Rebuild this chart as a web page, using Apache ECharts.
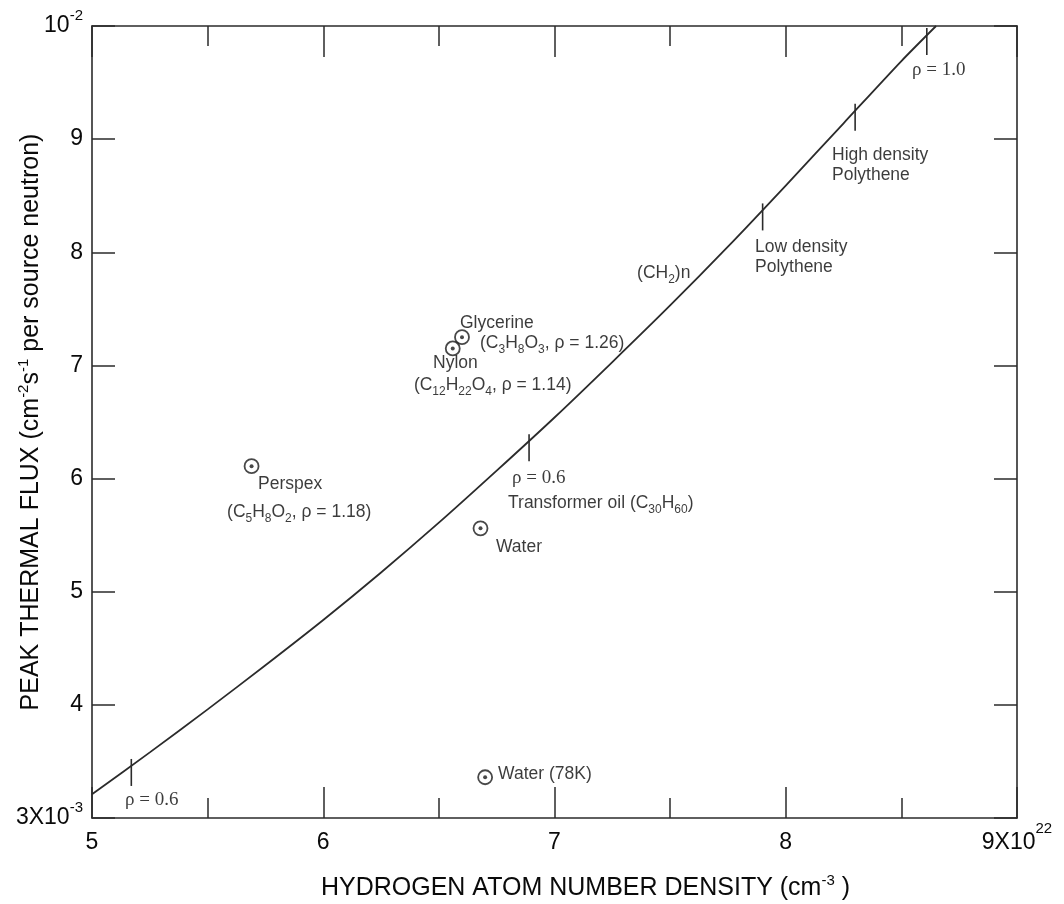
<!DOCTYPE html>
<html>
<head>
<meta charset="utf-8">
<script src="https://cdn.jsdelivr.net/npm/echarts@6/dist/echarts.min.js"></script>
<style>
html,body{margin:0;padding:0;background:#fff;}
#chart{width:1064px;height:904px;}
</style>
</head>
<body>
<div id="chart"></div>
<script>
// ---- data (x in units of 1e22 cm^-3, y in units of 1e-3) ----
const curveX = [5.00, 5.25, 5.50, 5.75, 6.00, 6.25, 6.50, 6.75, 7.00, 7.25, 7.50, 7.75, 8.00, 8.25, 8.50, 8.65];
const curveY = [3.21, 3.58, 3.96, 4.35, 4.75, 5.17, 5.61, 6.07, 6.54, 7.03, 7.53, 8.05, 8.59, 9.14, 9.69, 10.0];

const rhoTickX = [5.17, 6.89, 7.90, 8.30, 8.61];
const rhoTickY = [3.46, 6.33, 8.37, 9.25, 9.92];

const sampleNames = ['Perspex', 'Glycerine', 'Nylon', 'Water', 'Water (78K)'];
const sampleX = [5.69, 6.60, 6.56, 6.68, 6.70];
const sampleY = [6.11, 7.25, 7.15, 5.56, 3.36];

const annText = [
  '{r|ρ = 1.0}',
  '{n|High density}\n{n|Polythene}',
  '{n|Low density}\n{n|Polythene}',
  '{m|(CH}{s|2}{m|)n}',
  '{n|Glycerine}',
  '{m|(C}{s|3}{m|H}{s|8}{m|O}{s|3}{m|, ρ = 1.26)}',
  '{n|Nylon}',
  '{m|(C}{s|12}{m|H}{s|22}{m|O}{s|4}{m|, ρ = 1.14)}',
  '{r|ρ = 0.6}',
  '{m|Transformer oil (C}{s|30}{m|H}{s|60}{m|)}',
  '{n|Water}',
  '{n|Perspex}',
  '{m|(C}{s|5}{m|H}{s|8}{m|O}{s|2}{m|, ρ = 1.18)}',
  '{n|Water (78K)}',
  '{r|ρ = 0.6}'
];
const annX = [8.546, 8.200, 7.867, 7.357, 6.591, 6.678, 6.475, 6.392, 6.816, 6.799, 6.747, 5.718, 5.584, 6.756, 5.143];
const annY = [9.611, 8.772, 7.958, 7.817, 7.375, 7.198, 7.022, 6.827, 6.005, 5.784, 5.395, 5.952, 5.705, 3.389, 3.159];

const xTicks = [5, 6, 7, 8, 9];
const yTicks = [3, 4, 5, 6, 7, 8, 9, 10];

const xTitle = '{n|HYDROGEN ATOM NUMBER DENSITY (cm}{sup|-3}{n| )}';
const yTitle = '{n|PEAK THERMAL FLUX (cm}{sup|-2}{n|s}{sup|-1}{n| per source neutron)}';

// ---- styling ----
const SANS = '"Liberation Sans", Arial, Helvetica, sans-serif';
const SERIF = '"Liberation Serif", "Times New Roman", serif';
const INK = '#2b2b2b';
const TXT = '#0a0a0a';

const axisLineStyle = {color: INK, width: 1.6};

function xLabel(v) {
  if (v === 9) return '{n|9X10}{sup|22}';
  return '{n|' + v + '}';
}
function yLabel(v) {
  if (v === 10) return '{n|10}{sup|-2}';
  if (v === 3) return '{n|3X10}{sup|-3}';
  return '{n|' + v + '}';
}

const chart = echarts.init(document.getElementById('chart'), null, {renderer: 'canvas'});

const xBase = {
  type: 'value', min: xTicks[0], max: xTicks[xTicks.length - 1], interval: 1,
  splitLine: {show: false},
  axisLine: {show: true, lineStyle: axisLineStyle},
  axisTick: {show: true, inside: true, length: 31, lineStyle: {color: INK, width: 1.5}},
  minorTick: {show: true, splitNumber: 2, length: 20, lineStyle: {color: INK, width: 1.5}},
  minorSplitLine: {show: false}
};
const yBase = {
  type: 'value', min: yTicks[0], max: yTicks[yTicks.length - 1], interval: 1,
  splitLine: {show: false},
  axisLine: {show: true, lineStyle: axisLineStyle},
  axisTick: {show: true, inside: true, length: 23, lineStyle: {color: INK, width: 1.5}}
};

const option = {
  animation: false,
  backgroundColor: '#fff',
  grid: {left: 92, right: 47, top: 26, bottom: 86, containLabel: false, outerBoundsMode: 'none'},
  xAxis: [
    Object.assign({}, xBase, {
      position: 'bottom',
      name: xTitle, nameLocation: 'middle', nameGap: 55, nameMoveOverlap: false,
      nameTextStyle: {
        fontFamily: SANS, color: TXT, padding: [0, 0, 0, 62],
        rich: {
          n: {fontFamily: SANS, fontSize: 25, lineHeight: 30, color: TXT},
          sup: {fontFamily: SANS, fontSize: 15, lineHeight: 8, verticalAlign: 'top', color: TXT}
        }
      },
      axisLabel: {
        show: true, margin: 3, formatter: xLabel, lineHeight: 44,
        rich: {
          n: {fontFamily: SANS, fontSize: 23, lineHeight: 44, color: TXT},
          sup: {fontFamily: SANS, fontSize: 15, lineHeight: 8, verticalAlign: 'top', color: TXT}
        }
      }
    }),
    Object.assign({}, xBase, {position: 'top', axisLabel: {show: false}})
  ],
  yAxis: [
    Object.assign({}, yBase, {
      position: 'left',
      name: yTitle, nameLocation: 'middle', nameGap: 46, nameRotate: 90, nameMoveOverlap: false,
      nameTextStyle: {
        fontFamily: SANS, color: TXT,
        rich: {
          n: {fontFamily: SANS, fontSize: 25, lineHeight: 30, color: TXT},
          sup: {fontFamily: SANS, fontSize: 15, lineHeight: 8, verticalAlign: 'top', color: TXT}
        }
      },
      axisLabel: {
        show: true, margin: 9, formatter: yLabel, lineHeight: 36,
        rich: {
          n: {fontFamily: SANS, fontSize: 23, lineHeight: 36, color: TXT},
          sup: {fontFamily: SANS, fontSize: 15, lineHeight: 8, verticalAlign: 'top', color: TXT}
        }
      }
    }),
    Object.assign({}, yBase, {position: 'right', axisLabel: {show: false}})
  ],
  series: [
    {
      name: '(CH2)n', type: 'line', xAxisIndex: 0, yAxisIndex: 0,
      data: curveX.map((x, i) => [x, curveY[i]]),
      smooth: 0.25, showSymbol: false, symbol: 'none', clip: true,
      lineStyle: {color: INK, width: 1.8}, z: 3
    },
    {
      name: 'rho ticks', type: 'custom', xAxisIndex: 0, yAxisIndex: 0,
      data: rhoTickX.map((x, i) => [x, rhoTickY[i]]),
      renderItem: function (params, api) {
        const p = api.coord([api.value(0), api.value(1)]);
        return {
          type: 'line',
          shape: {x1: p[0], y1: p[1] - 7, x2: p[0], y2: p[1] + 20},
          style: {stroke: INK, lineWidth: 1.6}
        };
      },
      z: 4
    },
    {
      name: 'samples', type: 'scatter', xAxisIndex: 0, yAxisIndex: 0,
      data: sampleX.map((x, i) => ({name: sampleNames[i], value: [x, sampleY[i]]})),
      symbol: 'circle', symbolSize: 14,
      itemStyle: {color: '#fff', borderColor: '#1a1a1a', borderWidth: 1.8},
      z: 5
    },
    {
      name: 'sample dots', type: 'scatter', xAxisIndex: 0, yAxisIndex: 0,
      data: sampleX.map((x, i) => [x, sampleY[i]]),
      symbol: 'circle', symbolSize: 4,
      itemStyle: {color: '#1a1a1a'},
      z: 6
    },
    {
      name: 'annotations', type: 'scatter', xAxisIndex: 0, yAxisIndex: 0,
      data: annX.map((x, i) => ({value: [x, annY[i]], text: annText[i]})),
      symbolSize: 0, silent: true,
      label: {
        show: true, position: 'right', distance: 0,
        formatter: function (p) { return p.data.text; },
        align: 'left', verticalAlign: 'middle',
        rich: {
          n: {fontFamily: SANS, fontSize: 17.5, lineHeight: 20, color: TXT},
          m: {fontFamily: SANS, fontSize: 17.5, lineHeight: 26, color: TXT},
          s: {fontFamily: SANS, fontSize: 12, lineHeight: 3, verticalAlign: 'bottom', color: TXT},
          r: {fontFamily: SERIF, fontSize: 19, lineHeight: 20, color: TXT}
        }
      },
      z: 7
    }
  ]
};
chart.setOption(option);
</script>
</body>
</html>
